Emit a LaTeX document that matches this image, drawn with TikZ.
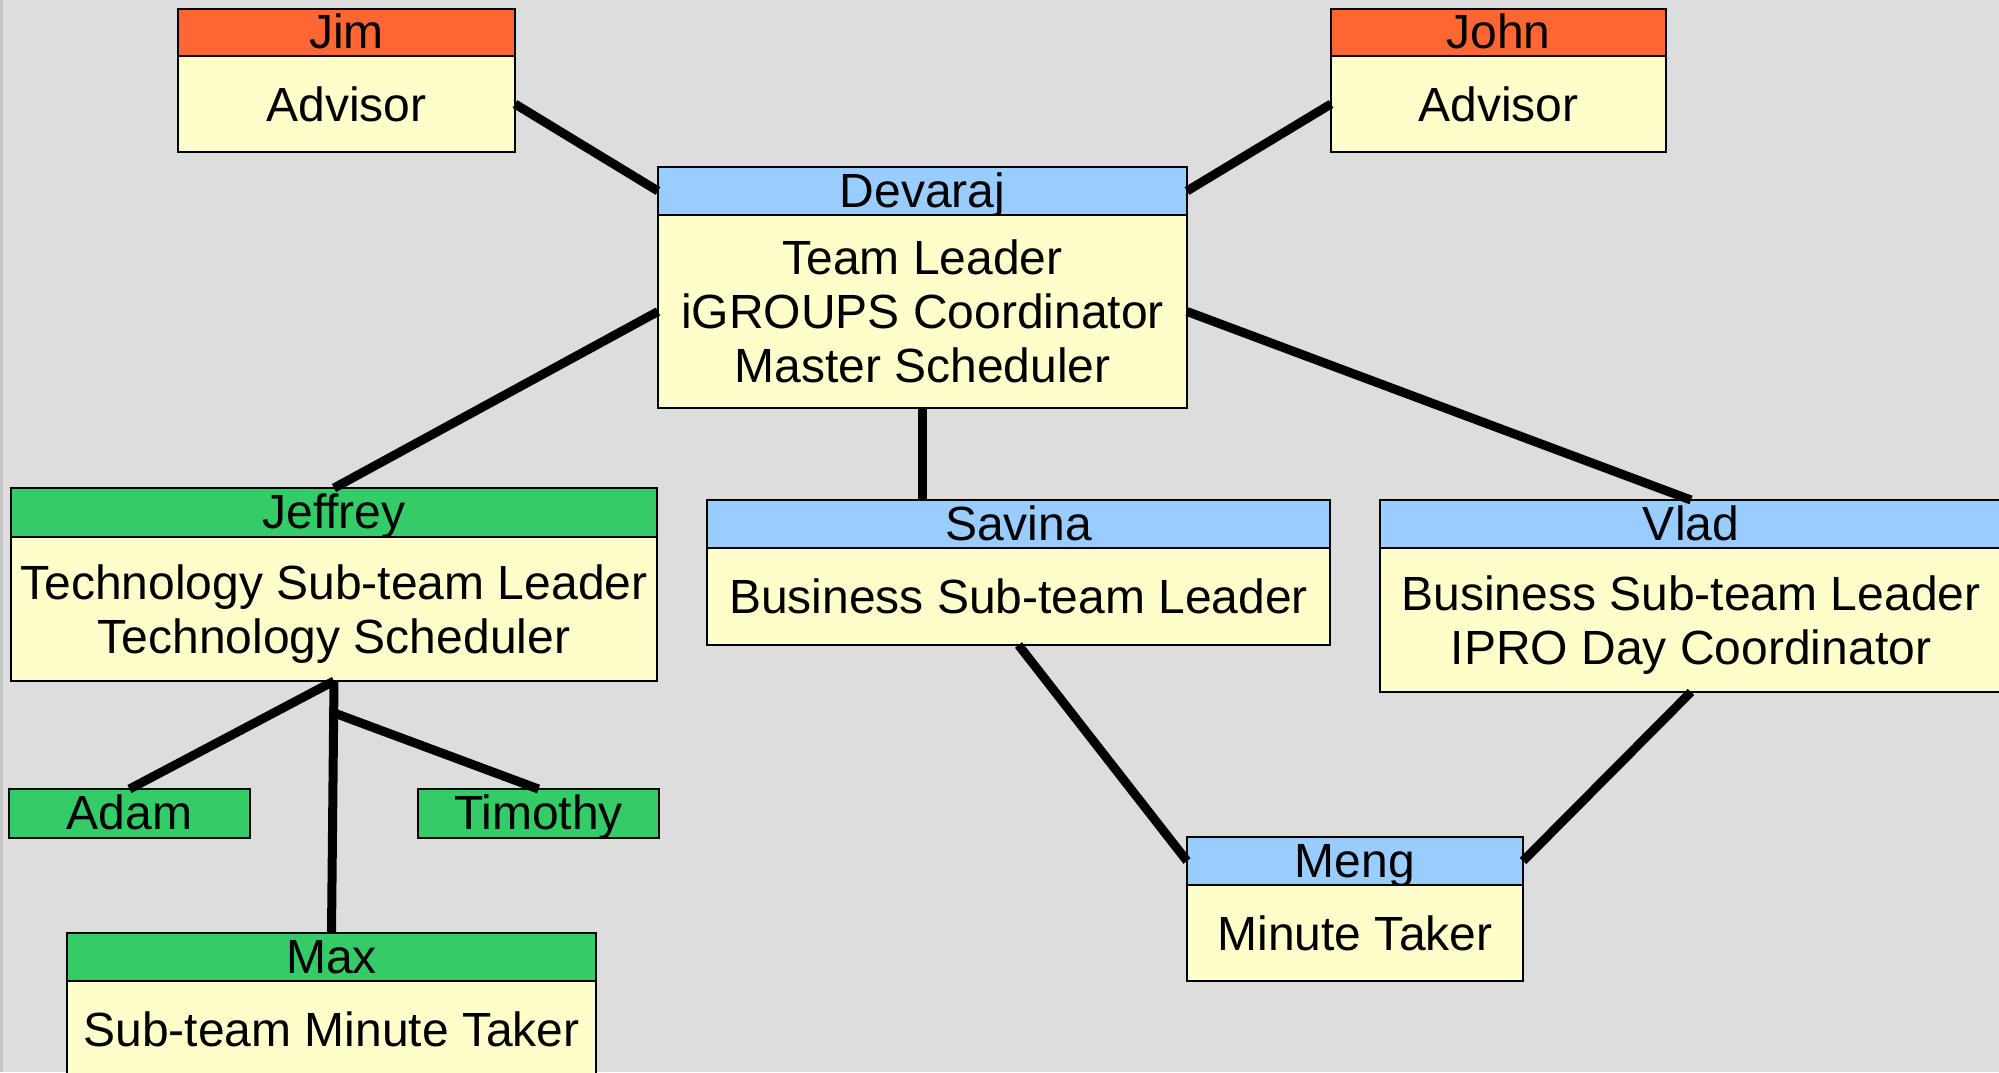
\documentclass[tikz,border=0pt]{standalone}
\usepackage{fontspec}
\setmainfont{Liberation Sans}
\usetikzlibrary{calc}
\definecolor{bgc}{HTML}{DDDDDD}
\definecolor{edgec}{HTML}{C4C4C4}
\definecolor{advc}{HTML}{FF6633}
\definecolor{bluec}{HTML}{99CCFF}
\definecolor{greenc}{HTML}{33CC66}
\definecolor{bodyc}{HTML}{FFFFCC}
\tikzset{
  box/.style={draw=black, line width=2.5pt, rectangle, inner sep=0pt, outer sep=0pt,
    anchor=north west, font=\fontsize{48}{54}\selectfont, align=center},
  hdr/.style={box, text height=36pt, text depth=4pt},
  bodybox/.style={box, fill=bodyc, text depth=0pt},
  advhdr/.style={hdr, fill=advc},
  bluehdr/.style={hdr, fill=bluec},
  greenhdr/.style={hdr, fill=greenc},
  link/.style={line width=9pt, draw=black}
}
\begin{document}
\begin{tikzpicture}[x=1pt, y=-1pt]
\clip (0,0) rectangle (1999,1072);
\fill[bgc] (0,0) rectangle (1999,1072);
\draw[edgec, line width=3pt] (1.5,0) -- (1.5,1072);

% Jim
\node[advhdr, minimum width=337pt, minimum height=47pt] (jimH) at (178,9) {Jim};
\node[bodybox, minimum width=337pt, minimum height=96pt] (jimB) at (178,56) {Advisor};
% John
\node[advhdr, minimum width=335pt, minimum height=47pt] (johnH) at (1331,9) {John};
\node[bodybox, minimum width=335pt, minimum height=96pt] (johnB) at (1331,56) {Advisor};
% Devaraj
\node[bluehdr, minimum width=529pt, minimum height=48pt] (devH) at (658,167) {Devaraj};
\node[bodybox, minimum width=529pt, minimum height=193pt] (devB) at (658,215) {Team Leader\\iGROUPS Coordinator\\Master Scheduler};
% Jeffrey
\node[greenhdr, minimum width=646pt, minimum height=49pt] (jefH) at (11,488) {Jeffrey};
\node[bodybox, minimum width=646pt, minimum height=144pt] (jefB) at (11,537) {Technology Sub-team Leader\\Technology Scheduler};
% Adam, Timothy
\node[greenhdr, minimum width=241pt, minimum height=49pt] (adam) at (9,789) {Adam};
\node[greenhdr, minimum width=241pt, minimum height=49pt] (tim) at (418,789) {Timothy};
% Max
\node[greenhdr, minimum width=529pt, minimum height=48pt] (maxH) at (67,933) {Max};
\node[bodybox, minimum width=529pt, minimum height=96pt] (maxB) at (67,981) {Sub-team Minute Taker};
% Savina
\node[bluehdr, minimum width=623pt, minimum height=48pt] (savH) at (707,500) {Savina};
\node[bodybox, minimum width=623pt, minimum height=97pt] (savB) at (707,548) {Business Sub-team Leader};
% Vlad
\node[bluehdr, minimum width=622pt, minimum height=48pt] (vladH) at (1380,500) {Vlad};
\node[bodybox, minimum width=622pt, minimum height=144pt] (vladB) at (1380,548) {Business Sub-team Leader\\IPRO Day Coordinator};
% Meng
\node[bluehdr, minimum width=336pt, minimum height=48pt] (mengH) at (1187,837) {Meng};
\node[bodybox, minimum width=336pt, minimum height=96pt] (mengB) at (1187,885) {Minute Taker};

% connectors
\draw[link] (jimB.east) -- (devH.west);
\draw[link] (johnB.west) -- (devH.east);
\draw[link] (devB.west) -- (jefH.north);
\draw[link] (devB.south) -- (devB.south |- savH.north);
\draw[link] (devB.east) -- (vladH.north);
\draw[link] (savB.south) -- (mengH.west);
\draw[link] (vladB.south) -- (mengH.east);
\draw[link] (jefB.south) -- (adam.north);
\draw[link] (jefB.south) -- (maxH.north);
\coordinate (tj) at ($(jefB.south)!0.126!(maxH.north)$);
\draw[link] (tj) -- (tim.north);
\end{tikzpicture}
\end{document}
